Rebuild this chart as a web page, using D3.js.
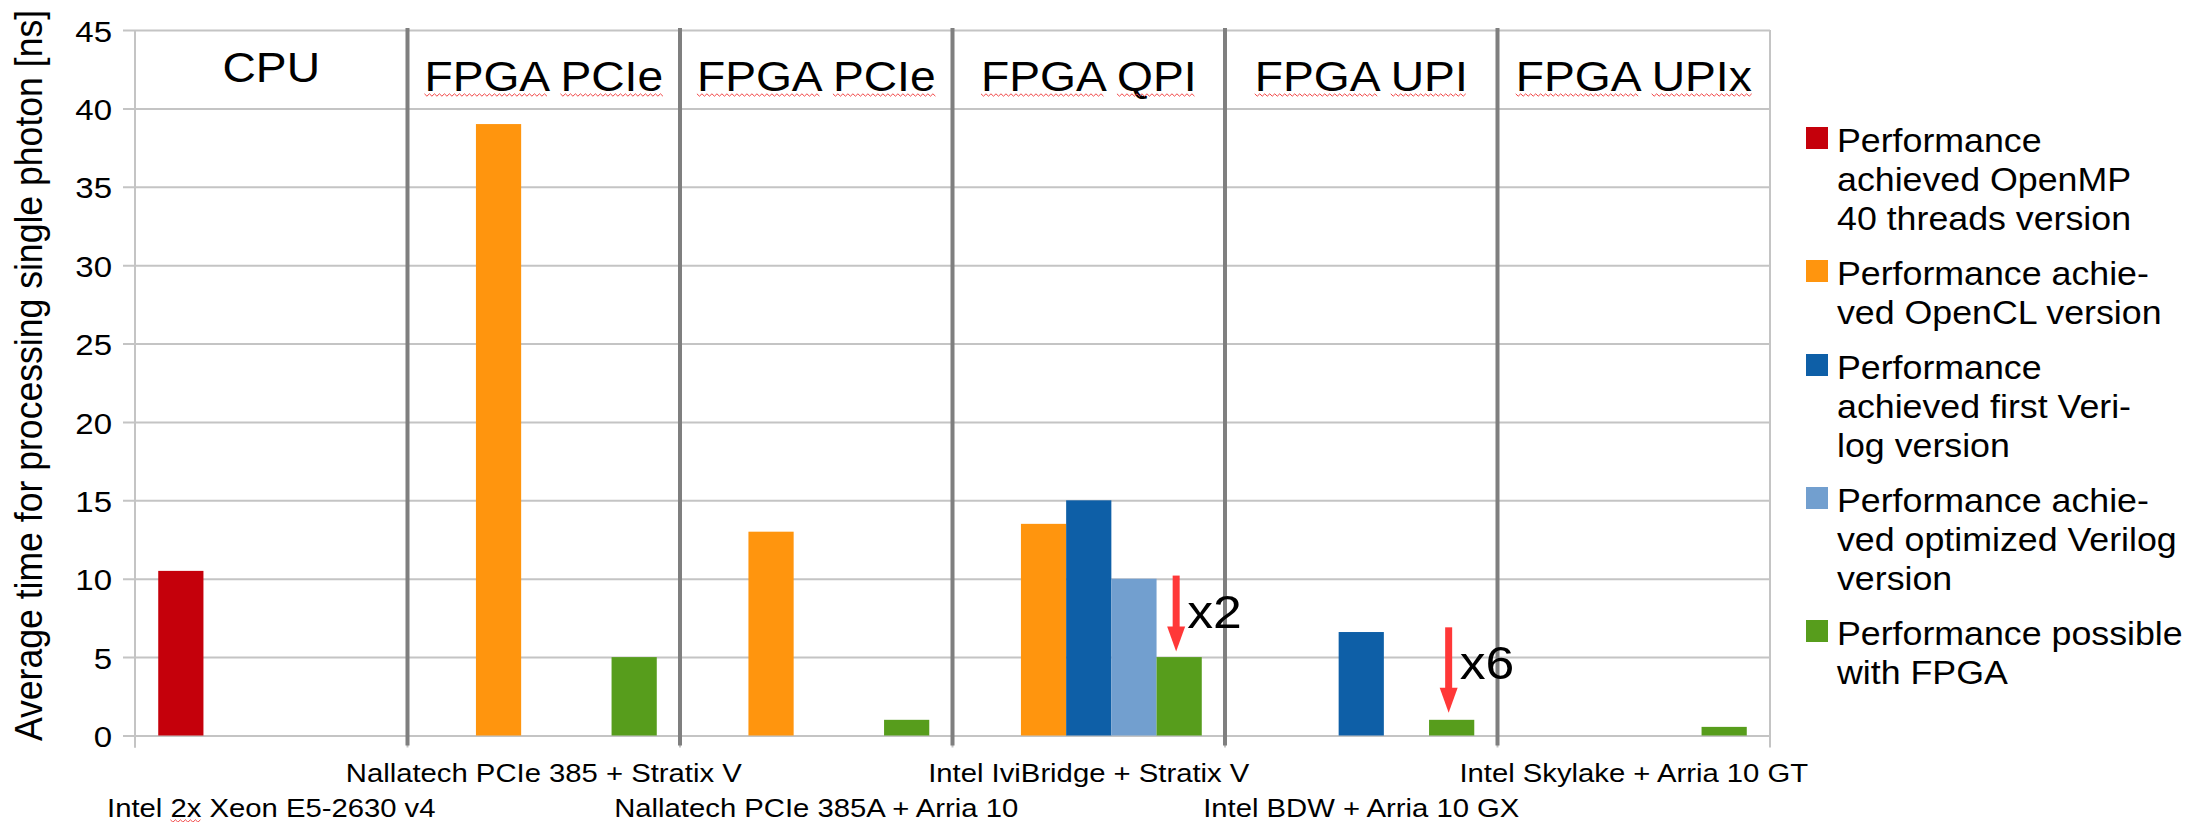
<!DOCTYPE html>
<html>
<head>
<meta charset="utf-8">
<script src="https://cdn.jsdelivr.net/npm/d3@7"></script>
<style>
  body { margin: 0; background: #fff; }
  svg text { font-family: "Liberation Sans", Arial, sans-serif; fill: #000; }
</style>
</head>
<body>
<svg id="chart" width="2211" height="822"></svg>
<script>
// categories (x axis) and the platform names written on top of each column
const categories = [
    'Intel 2x Xeon E5-2630 v4',
    'Nallatech PCIe 385 + Stratix V',
    'Nallatech PCIe 385A + Arria 10',
    'Intel IviBridge + Stratix V',
    'Intel BDW + Arria 10 GX',
    'Intel Skylake + Arria 10 GT'
]
const groupLabels = ['CPU', 'FPGA PCIe', 'FPGA PCIe', 'FPGA QPI', 'FPGA UPI', 'FPGA UPIx']

// series, legend text (hyphenated like the original) and colours
const legendLines = [
    ['Performance', 'achieved OpenMP', '40 threads version'],
    ['Performance achie-', 'ved OpenCL version'],
    ['Performance', 'achieved first Veri-', 'log version'],
    ['Performance achie-', 'ved optimized Verilog', 'version'],
    ['Performance possible', 'with FPGA']
]
const seriesColors = ['#c5000b', '#ff950e', '#0e5fa7', '#729fcf', '#579d1c']

// values in ns, null = no bar
const openmp       = [10.5, null, null, null, null, null]
const opencl       = [null, 39, 13, 13.5, null, null]
const verilogFirst = [null, null, null, 15, 6.6, null]
const verilogOpt   = [null, null, null, 10, null, null]
const possible     = [null, 5, 1, 5, 1, 0.55]
const series = [openmp, opencl, verilogFirst, verilogOpt, possible]

const yTicks = [0, 5, 10, 15, 20, 25, 30, 35, 40, 45]

// red arrows with speed-up factors
const arrowCats = [3, 4]
const arrowFrom = [10.2, 6.9]
const arrowTo = [5.35, 1.45]
const arrowLabels = ['x2', 'x6']

// words underlined by the spell checker
const topSquiggleWords = ['FPGA', 'PCIe', 'QPI', 'UPI', 'UPIx']
const labelSquiggleWords = ['2x']

const sx = 1.1   // the original picture is slightly stretched horizontally
const svg = d3.select('#chart')
const plot = { left: 135, right: 1770, top: 30, bottom: 735.5 }
const gridColor = '#c4c4c4'

const x0 = d3.scaleBand()
    .domain(d3.range(categories.length))
    .range([plot.left, plot.right])
    .padding(0)
const x1 = d3.scaleBand()
    .domain(d3.range(series.length))
    .range([0, x0.bandwidth()])
    .paddingInner(0)
    .paddingOuter(0.514)
const y = d3.scaleLinear().domain([0, 45]).range([plot.bottom, plot.top])

// horizontal grid + y tick labels
const yAxis = svg.append('g')
    .attr('transform', `translate(${plot.left - 12},0)`)
    .call(d3.axisLeft(y).tickValues(yTicks)
        .tickSizeInner(-(plot.right - plot.left + 12))
        .tickSizeOuter(0)
        .tickPadding(10))
yAxis.select('.domain').remove()
yAxis.selectAll('.tick line').attr('stroke', gridColor).attr('stroke-width', 2)
yAxis.selectAll('.tick text')
    .attr('font-size', 30)
    .attr('dy', '0.37em')
    .attr('transform', `scale(${sx},1)`)
    .style('font-family', '"Liberation Sans", Arial, sans-serif')

// left and right frame lines
svg.append('g').selectAll('line')
    .data([plot.left, plot.right])
    .join('line')
    .attr('x1', d => d).attr('x2', d => d)
    .attr('y1', plot.top).attr('y2', plot.bottom + 12)
    .attr('stroke', gridColor).attr('stroke-width', 2)

// ticks at category boundaries
svg.append('g').selectAll('line')
    .data(d3.range(categories.length))
    .join('line')
    .attr('x1', d => x0(d)).attr('x2', d => x0(d))
    .attr('y1', plot.bottom).attr('y2', plot.bottom + 12)
    .attr('stroke', gridColor).attr('stroke-width', 2)

// bars
const barData = []
series.forEach((vals, s) => vals.forEach((v, c) => {
    if (v !== null) barData.push({ s, c, v })
}))
svg.append('g').selectAll('rect')
    .data(barData)
    .join('rect')
    .attr('x', d => x0(d.c) + x1(d.s))
    .attr('width', x1.bandwidth())
    .attr('y', d => y(d.v))
    .attr('height', d => y(0) - y(d.v))
    .attr('fill', d => seriesColors[d.s])

// dark separators between platforms
svg.append('g').selectAll('line')
    .data(d3.range(1, categories.length))
    .join('line')
    .attr('x1', d => x0(d)).attr('x2', d => x0(d))
    .attr('y1', plot.top - 2).attr('y2', plot.bottom + 10)
    .attr('stroke', '#7f7f7f').attr('stroke-width', 4)

// wavy red underline for the given words of a text node
function squiggle(textNode, words, originX, baseline) {
    const str = textNode.textContent
    words.forEach(w => {
        const re = new RegExp('(^| )' + w + '(?= |$)', 'g')
        let m
        while ((m = re.exec(str)) !== null) {
            const start = m.index + m[1].length
            const xa = originX + textNode.getStartPositionOfChar(start).x * sx
            const xb = originX + textNode.getEndPositionOfChar(start + w.length - 1).x * sx
            const pts = []
            for (let xx = xa, k = 0; xx <= xb; xx += 2.5, k++) pts.push([xx, baseline + 4 + (k % 2 ? 1.2 : -1.2)])
            svg.append('path')
                .attr('d', d3.line()(pts))
                .attr('fill', 'none')
                .attr('stroke', '#f24646')
                .attr('stroke-width', 1)
        }
    })
}

// platform names on top
svg.append('g').selectAll('text')
    .data(groupLabels)
    .join('text')
    .attr('text-anchor', 'middle')
    .attr('font-size', 42)
    .attr('transform', (d, i) => `translate(${x0(i) + x0.bandwidth() / 2},${i === 0 ? 82 : 91}) scale(${sx},1)`)
    .text(d => d)
    .each(function (d, i) {
        squiggle(this, topSquiggleWords, x0(i) + x0.bandwidth() / 2, i === 0 ? 82 : 91)
    })

// category labels, staggered on two rows
const xAxis = svg.append('g')
    .attr('transform', `translate(0,${plot.bottom})`)
    .call(d3.axisBottom(x0).tickSizeInner(0).tickSizeOuter(0).tickFormat(i => categories[i]))
xAxis.select('.domain').remove()
xAxis.selectAll('.tick text')
    .attr('font-size', 26.6)
    .attr('dy', 0)
    .attr('y', (d, i) => i % 2 ? 46.5 : 81.5)
    .attr('transform', `scale(${sx},1)`)
    .style('font-family', '"Liberation Sans", Arial, sans-serif')
    .each(function (d, i) {
        squiggle(this, labelSquiggleWords, x0(d) + x0.bandwidth() / 2, plot.bottom + (i % 2 ? 46.5 : 81.5))
    })

// y axis title
svg.append('text')
    .attr('text-anchor', 'middle')
    .attr('font-size', 35.6)
    .attr('transform', `translate(41.8,375.5) scale(${sx},1) rotate(-90)`)
    .text('Average time for processing single photon [ns]')

// arrows + factors
const arrowX = i => x0(arrowCats[i]) + x1(series.length - 1) + x1.bandwidth() / 2 - 3
const arrows = svg.append('g')
arrowCats.forEach((c, i) => {
    const ax = arrowX(i)
    const tip = y(arrowTo[i])
    arrows.append('rect')
        .attr('x', ax - 3.5).attr('width', 7)
        .attr('y', y(arrowFrom[i])).attr('height', tip - 24 - y(arrowFrom[i]))
        .attr('fill', '#ff3838')
    arrows.append('path')
        .attr('d', `M${ax - 9},${tip - 25}L${ax + 9},${tip - 25}L${ax},${tip}Z`)
        .attr('fill', '#ff3838')
    arrows.append('text')
        .attr('font-size', 47)
        .attr('transform', `translate(${ax + 11},${y(arrowFrom[i]) + 52}) scale(${sx},1)`)
        .text(arrowLabels[i])
})

// legend
const legend = svg.append('g').attr('transform', 'translate(1806,0)')
let legendTop = 127
legendLines.forEach((lines, i) => {
    const g = legend.append('g').attr('transform', `translate(0,${legendTop})`)
    g.append('rect').attr('width', 22).attr('height', 22).attr('fill', seriesColors[i])
    g.selectAll('text')
        .data(lines)
        .join('text')
        .attr('font-size', 32.5)
        .attr('transform', (d, k) => `translate(31,${24.5 + k * 39}) scale(${sx},1)`)
        .text(d => d)
    legendTop += lines.length * 39 + 16
})
</script>
</body>
</html>
